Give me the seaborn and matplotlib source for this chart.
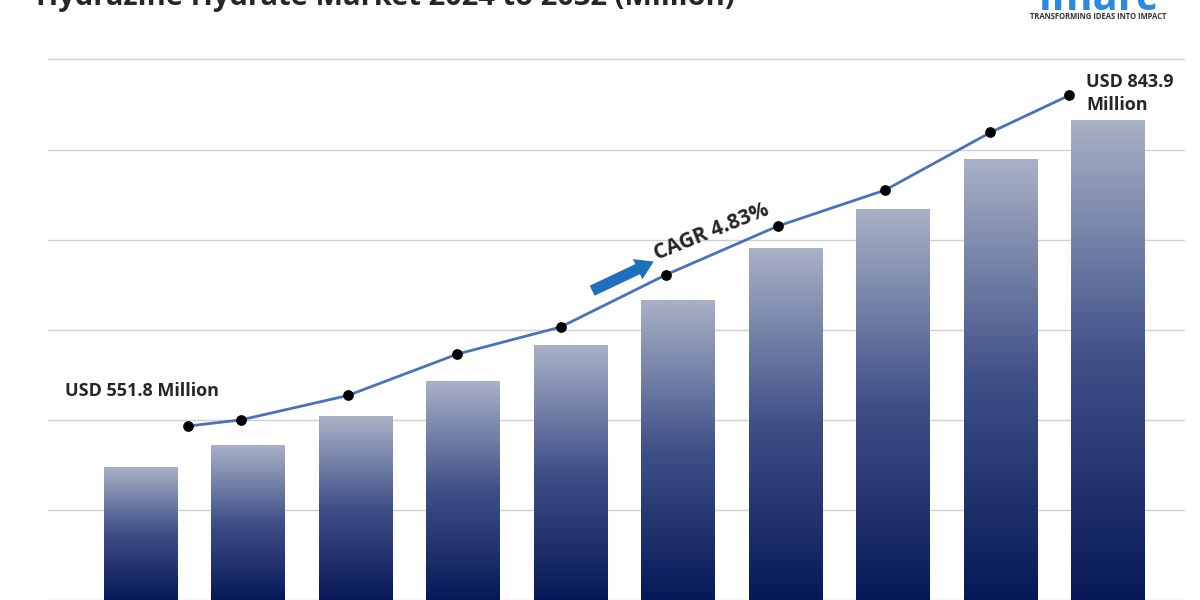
import numpy as np
import pandas as pd
import matplotlib
matplotlib.use("Agg")
import matplotlib.pyplot as plt
import seaborn as sns

years = ["2024", "2025", "2026", "2027", "2028", "2029", "2030", "2031", "2032", "2033"]
bar_values = [148, 172, 204, 243, 283, 333, 391, 434, 490, 533]
line_x = [0.44, 0.94, 1.93, 2.95, 3.91, 4.89, 5.93, 6.93, 7.91, 8.64]
line_values = [193, 200, 227, 273, 303, 361, 415, 455, 519, 560]

sns.set_theme(style="white")
plt.rcParams['font.family'] = ['Open Sans', 'DejaVu Sans']

fig = plt.figure(figsize=(12, 6), dpi=100)
ax = fig.add_axes([0.04, 0.0, 0.9475, 1.0])

df = pd.DataFrame({"year": years, "value": bar_values})
sns.barplot(data=df, x="year", y="value", ax=ax, width=0.68, color="#1a2a66", zorder=2)

# gradient fill inside each bar
grad = np.linspace(0, 1, 256).reshape(-1, 1)
cmap = matplotlib.colors.LinearSegmentedColormap.from_list("g", ["#071858", "#3f5088", "#a9b1c6"])
for p in ax.patches:
    x0, w, h = p.get_x(), p.get_width(), p.get_height()
    im = ax.imshow(grad, extent=[x0, x0 + w, 0, h], origin="lower", cmap=cmap,
                   aspect="auto", zorder=3)
    im.set_clip_path(p)
    p.set_facecolor("none")

ax.plot(line_x, line_values, color="#4a72b8", lw=2, zorder=4)
ax.scatter(line_x, line_values, color="black", s=45, zorder=5)

ax.set_xlim(-0.86, 9.72)
ax.set_ylim(0, 666)
ax.set_yticks([0, 100, 200, 300, 400, 500, 600])
ax.yaxis.grid(True, color="#d0d0d0", lw=1)
ax.set_axisbelow(True)
ax.set_xticks([])
ax.set_yticklabels([])
ax.set_xlabel("")
ax.set_ylabel("")
for s in ax.spines.values():
    s.set_visible(False)

ax.text(-0.7, 222, "USD 551.8 Million", fontsize=13, fontweight="bold", ha="left", va="bottom")
ax.text(8.8, 540, "USD 843.9\nMillion", fontsize=13, fontweight="bold", ha="left", va="bottom",
        linespacing=1.3)
ax.annotate("", xy=(4.8, 377), xytext=(4.18, 342),
            arrowprops=dict(arrowstyle="simple,tail_width=0.5,head_width=1.0,head_length=0.8",
                            mutation_scale=16, color="#1f6fbf", lw=0), zorder=6)
ax.text(4.82, 372, "CAGR 4.83%", fontsize=15, fontweight="bold", rotation=22,
        ha="left", va="bottom", rotation_mode="anchor")

fig.text(0.03, 1.005, "Hydrazine Hydrate Market 2024 to 2032 (Million)", fontsize=21,
         fontweight="bold", ha="left", va="center")
fig.text(0.915, 0.983, "imarc", fontsize=30, fontweight="bold", color="#2a8ae0",
         ha="center", va="baseline")
fig.text(0.915, 0.972, "TRANSFORMING IDEAS INTO IMPACT", fontsize=5.5, fontweight="bold",
         color="#333333", ha="center", va="center")

fig.savefig("out.png", dpi=100)
